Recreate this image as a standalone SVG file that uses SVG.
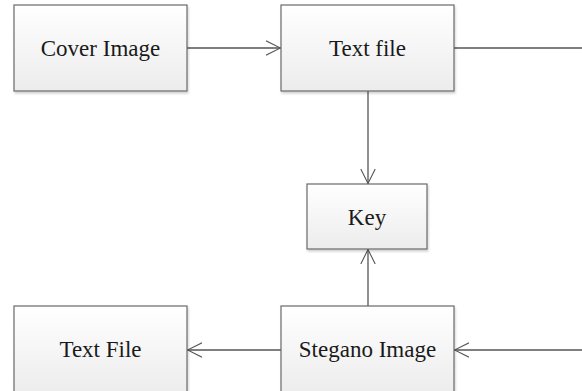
<svg xmlns="http://www.w3.org/2000/svg" width="582" height="391" viewBox="0 0 582 391">
<style>
.box{fill:url(#g);stroke:#6a6a6a;stroke-width:1.2}
.lbl{font-family:"Liberation Serif","Times New Roman",serif;font-size:23px;fill:#1a1a1a;text-anchor:middle}
.con{fill:none;stroke:#555;stroke-width:1.3}
</style>
<defs>
<linearGradient id="g" x1="0" y1="0" x2="0" y2="1">
<stop offset="0" stop-color="#ffffff"/>
<stop offset="1" stop-color="#ececec"/>
</linearGradient>
<filter id="sh" x="-10%" y="-10%" width="120%" height="130%">
<feDropShadow dx="1" dy="2" stdDeviation="1.2" flood-color="#000" flood-opacity="0.18"/>
</filter>
<marker id="ah" viewBox="0 0 15 16" refX="15" refY="8" markerWidth="15" markerHeight="16" markerUnits="userSpaceOnUse" orient="auto">
<path d="M0,0.8 L14.5,8 L0,15.2" fill="none" stroke="#555" stroke-width="1.1"/>
</marker>
</defs>
<g id="connectors">
<path class="con" d="M187,48 H281" marker-end="url(#ah)"/>
<path class="con" d="M368,91 V184" marker-end="url(#ah)"/>
<path class="con" d="M368,306 V249" marker-end="url(#ah)"/>
<path class="con" d="M454,48 H600 V350 H454" marker-end="url(#ah)"/>
<path class="con" d="M281,350 H187" marker-end="url(#ah)"/>
</g>
<g id="cover-image">
<rect class="box" x="14" y="5" width="173" height="86" filter="url(#sh)"/>
<text class="lbl" x="100.5" y="56">Cover Image</text>
</g>
<g id="text-file-top">
<rect class="box" x="281" y="5" width="173" height="86" filter="url(#sh)"/>
<text class="lbl" x="367.5" y="56">Text file</text>
</g>
<g id="key">
<rect class="box" x="307" y="184" width="120" height="65" filter="url(#sh)"/>
<text class="lbl" x="367" y="225">Key</text>
</g>
<g id="text-file-bottom">
<rect class="box" x="14" y="306" width="173" height="88" filter="url(#sh)"/>
<text class="lbl" x="100.5" y="357">Text File</text>
</g>
<g id="stegano-image">
<rect class="box" x="281" y="306" width="173" height="88" filter="url(#sh)"/>
<text class="lbl" x="367.5" y="357">Stegano Image</text>
</g>
</svg>
